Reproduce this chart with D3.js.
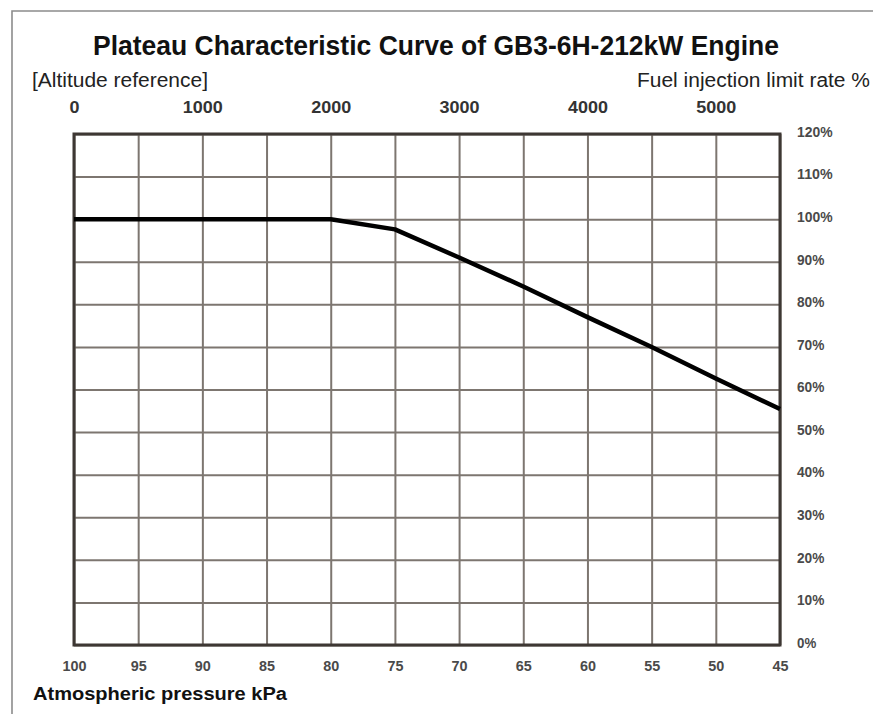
<!DOCTYPE html>
<html>
<head>
<meta charset="utf-8">
<script src="https://cdn.jsdelivr.net/npm/d3@7"></script>
<style>
  html, body { margin: 0; padding: 0; background: #fff; }
  svg { display: block; }
  text { font-family: "Liberation Sans", Arial, sans-serif; }
</style>
</head>
<body>
<svg id="chart" width="873" height="714"></svg>
<script>
// ---- data ----
const pressureTicks = [100, 95, 90, 85, 80, 75, 70, 65, 60, 55, 50, 45];
const rateTicks = [0, 10, 20, 30, 40, 50, 60, 70, 80, 90, 100, 110, 120];
const altitudeTicks = [0, 1000, 2000, 3000, 4000, 5000];
const curvePressure = [100, 95, 90, 85, 80, 75, 70, 65, 60, 55, 50, 45];
const curveRate =     [100, 100, 100, 100, 100, 97.6, 91, 84.2, 77, 70, 62.6, 55.4];

const titleText = "Plateau Characteristic Curve of GB3-6H-212kW Engine";
const leftSub = "[Altitude reference]";
const rightSub = "Fuel injection limit rate %";
const xTitle = "Atmospheric pressure kPa";

// ---- layout ----
const svg = d3.select("#chart");
const L = 74, R = 780, T = 134, B = 645;

const x = d3.scaleLinear().domain([100, 45]).range([L, R]);
const y = d3.scaleLinear().domain([0, 120]).range([B, T]);
const alt = d3.scaleLinear().domain([0, 5500]).range([L, R]);

// outer frame
svg.append("path")
  .attr("d", `M12,714 L12,11 L873,11`)
  .attr("fill", "none").attr("stroke", "#8c8c8c").attr("stroke-width", 1.6);

// title and subtitles
svg.append("text").attr("x", 93).attr("y", 55)
  .attr("font-size", 27).attr("font-weight", "bold").attr("fill", "#111")
  .attr("textLength", 686).attr("lengthAdjust", "spacingAndGlyphs")
  .text(titleText);
svg.append("text").attr("x", 32).attr("y", 87)
  .attr("font-size", 20).attr("fill", "#222")
  .attr("textLength", 176).attr("lengthAdjust", "spacingAndGlyphs")
  .text(leftSub);
svg.append("text").attr("x", 637).attr("y", 87)
  .attr("font-size", 20).attr("fill", "#222")
  .attr("textLength", 233).attr("lengthAdjust", "spacingAndGlyphs")
  .text(rightSub);

// grid: vertical lines
const gx = svg.append("g").attr("transform", `translate(0,${B})`)
  .call(d3.axisBottom(x).tickValues(pressureTicks).tickSize(-(B - T)).tickSizeOuter(0).tickFormat(d3.format("d")));
gx.select(".domain").remove();
gx.selectAll(".tick line").attr("stroke", "#7d7670").attr("stroke-width", 2);
gx.selectAll(".tick text").attr("font-size", 15).attr("fill", "#4a4a4a")
  .attr("dy", 0).attr("y", 26).attr("font-weight", "bold")
  .attr("textLength", d => String(d).length * 8).attr("lengthAdjust", "spacingAndGlyphs");

// grid: horizontal lines + right labels
const gy = svg.append("g").attr("transform", `translate(${R},0)`)
  .call(d3.axisRight(y).tickValues(rateTicks).tickSize(-(R - L)).tickSizeOuter(0).tickFormat(d => d + "%"));
gy.select(".domain").remove();
gy.selectAll(".tick line").attr("stroke", "#7d7670").attr("stroke-width", 2);
gy.selectAll(".tick text").attr("font-size", 15).attr("fill", "#4a4a4a")
  .attr("x", 17).attr("dy", "0.15em").attr("font-weight", "bold")
  .attr("textLength", d => (String(d).length) * 8.2 + 11).attr("lengthAdjust", "spacingAndGlyphs");

// top altitude labels
const ga = svg.append("g").attr("transform", `translate(0,${T})`)
  .call(d3.axisTop(alt).tickValues(altitudeTicks).tickSize(0).tickFormat(d3.format("d")));
ga.select(".domain").remove();
ga.selectAll(".tick text").attr("font-size", 17).attr("fill", "#333")
  .attr("font-weight", "bold").attr("y", -21).attr("dy", 0)
  .attr("textLength", d => String(d).length * 10).attr("lengthAdjust", "spacingAndGlyphs");

// plot border
svg.append("rect").attr("x", L).attr("y", T).attr("width", R - L).attr("height", B - T)
  .attr("fill", "none").attr("stroke", "#3d3733").attr("stroke-width", 3);

// curve
const pts = curvePressure.map((p, i) => [p, curveRate[i]]);
svg.append("path").datum(pts)
  .attr("d", d3.line().x(d => x(d[0])).y(d => y(d[1])))
  .attr("fill", "none").attr("stroke", "#000").attr("stroke-width", 4.5)
  .attr("stroke-linejoin", "round");

// x title
svg.append("text").attr("x", 33).attr("y", 700)
  .attr("font-size", 18).attr("font-weight", "bold").attr("fill", "#111")
  .attr("textLength", 254).attr("lengthAdjust", "spacingAndGlyphs")
  .text(xTitle);
</script>
</body>
</html>
